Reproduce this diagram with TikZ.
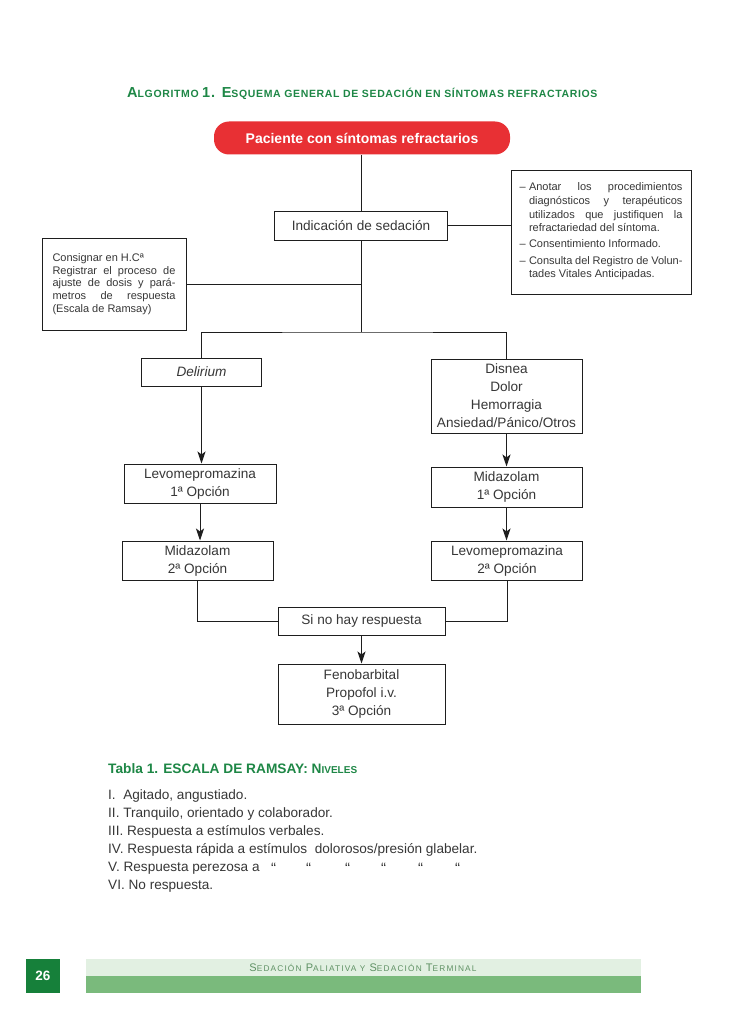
\documentclass[tikz,border=0pt]{standalone}
\usepackage{fontspec}
\setmainfont{Liberation Sans}
\newfontfamily\titlefont[LetterSpace=6.2]{Liberation Sans}
\newfontfamily\footfont[LetterSpace=14]{Liberation Sans}
\usetikzlibrary{arrows.meta}
\definecolor{tgreen}{RGB}{30,135,70}
\definecolor{pred}{RGB}{232,48,52}
\definecolor{fdark}{RGB}{22,128,58}
\definecolor{flight}{RGB}{226,240,226}
\definecolor{fmid}{RGB}{122,186,124}
\definecolor{ftext}{RGB}{95,145,100}
\definecolor{ink}{RGB}{30,30,30}
\definecolor{txt}{RGB}{55,55,55}
\newcommand\BigL[1]{{\fontsize{14.5}{16}\selectfont #1}}
\newcommand\SmlL[1]{{\fontsize{10.5}{12}\selectfont #1}}
\newcommand\FBig[1]{{\fontsize{11}{12}\selectfont #1}}
\newcommand\FSml[1]{{\fontsize{8.3}{12}\selectfont #1}}
\newcommand\ditem[1]{\par\noindent\hangindent=9.5pt\hangafter=1\makebox[9.5pt][l]{–}#1\par\vspace{2.3pt}}
\begin{document}
\begin{tikzpicture}[x=1pt,y=-1pt,
  box/.style={draw=ink, line width=1pt, inner sep=0pt, align=center,
    font=\fontsize{13.6}{18}\selectfont, text=txt},
  conn/.style={draw=ink, line width=1pt},
  arr/.style={conn, -{Stealth[length=12pt,width=8pt,inset=3pt]}},
  listline/.style={anchor=west, inner sep=0pt, text=txt, font=\fontsize{13.6}{16}\selectfont},
  ditto/.style={anchor=west, inner sep=0pt, text=txt, font=\fontsize{15}{16}\selectfont}
]
\useasboundingbox[fill=white] (0,0) rectangle (728,1027);

% title
\node[anchor=base west, inner sep=0pt, text=tgreen, font=\titlefont\bfseries] (title) at (127,97.5)
  {\BigL{A}\SmlL{LGORITMO} \BigL{1. E}\SmlL{SQUEMA GENERAL DE SEDACIÓN EN SÍNTOMAS REFRACTARIOS}};

% nodes
\node[fill=pred, rounded corners=15pt, minimum width=296pt, minimum height=33pt, inner sep=0pt,
  text=white, font=\bfseries\fontsize{14}{16}\selectfont] (pac) at (362,138) {Paciente con síntomas refractarios};

\node[box, minimum width=173pt, minimum height=29pt] (ind) at (361,225.5) {Indicación de sedación};

\node[box, minimum width=180pt, minimum height=123pt] (notes) at (601,232.5)
  {\begin{minipage}{163pt}\fontsize{11}{13.8}\selectfont
   \ditem{Anotar los procedimientos\linebreak diagnósticos y terapéuticos\linebreak utilizados que justifiquen la\linebreak refractariedad del síntoma.}
   \ditem{Consentimiento Informado.}
   \ditem{Consulta del Registro de Volun-\linebreak tades Vitales Anticipadas.}
   \end{minipage}};

\node[box, minimum width=144pt, minimum height=92pt] (reg) at (114,284)
  {\begin{minipage}{123pt}\fontsize{11}{12.7}\selectfont
   Consignar en H.Cª\\
   Registrar el proceso de\linebreak ajuste de dosis y pará-\linebreak metros de respuesta\linebreak (Escala de Ramsay)
   \end{minipage}};

\node[box, minimum width=120pt, minimum height=28pt, font=\itshape\fontsize{13.6}{18}\selectfont] (delirium) at (201.5,372) {Delirium};
\node[box, minimum width=151pt, minimum height=74pt] (disnea) at (506.5,396) {Disnea\\Dolor\\Hemorragia\\Ansiedad/Pánico/Otros};

\node[box, minimum width=152pt, minimum height=39pt] (levo1) at (200,483.5) {Levomepromazina\\1ª Opción};
\node[box, minimum width=151pt, minimum height=39pt] (mida2) at (197.5,560.5) {Midazolam\\2ª Opción};
\node[box, minimum width=151pt, minimum height=40pt] (mida1) at (506.5,487) {Midazolam\\1ª Opción};
\node[box, minimum width=151pt, minimum height=39pt] (levo2) at (507,560.5) {Levomepromazina\\2ª Opción};

\node[box, minimum width=167pt, minimum height=28pt] (sino) at (361.5,621) {Si no hay respuesta};
\node[box, minimum width=167pt, minimum height=60pt] (feno) at (361.5,694) {Fenobarbital\\Propofol i.v.\\3ª Opción};

% connectors
\coordinate (split) at (361,332);
\draw[conn] (ind.north |- pac.south) -- (ind.north);
\draw[conn] (ind.east) -- (ind.east -| notes.west);
\draw[conn] (ind.south) -- (split);
\draw[conn] (reg.east) -- (reg.east -| split);
\draw[conn] (delirium.north) |- (split) -| (disnea.north);
\draw[arr] (delirium.south) -- (delirium.south |- levo1.north);
\draw[arr] (levo1.south) -- (levo1.south |- mida2.north);
\draw[arr] (disnea.south) -- (disnea.south |- mida1.north);
\draw[arr] (mida1.south) -- (mida1.south |- levo2.north);
\draw[conn] (mida2.south) |- (sino.west);
\draw[conn] (levo2.south) |- (sino.east);
\draw[arr] (sino.south) -- (feno.north);

% table
\node[anchor=west, inner sep=0pt, text=tgreen, font=\bfseries\fontsize{13.7}{16}\selectfont] (tabla) at (108,769)
  {Tabla 1. ESCALA DE RAMSAY: N{\fontsize{10}{12}\selectfont IVELES}};
\node[listline] (l1) at (108,796) {I.\ \ Agitado, angustiado.};
\node[listline] (l2) at (108,814) {II. Tranquilo, orientado y colaborador.};
\node[listline] (l3) at (108,832) {III. Respuesta a estímulos verbales.};
\node[listline] (l4) at (108,850) {IV. Respuesta rápida a estímulos \ dolorosos/presión glabelar.};
\node[listline] (l5) at (108,868) {V. Respuesta perezosa a};
\foreach \dx [count=\i] in {271,306,345,381,418,455}
  \node[ditto] (d\i) at (\dx,868) {“};
\node[listline] (l6) at (108,886) {VI. No respuesta.};

% footer
\fill[fdark] (26,959) rectangle (60,993);
\node[text=white, font=\bfseries\fontsize{13.5}{16}\selectfont] (pg) at (43,976) {26};
\fill[flight] (86,959) rectangle (641,976);
\fill[fmid] (86,976) rectangle (641,993);
\node[text=ftext, inner sep=0pt, font=\footfont] (foot) at (363,968)
  {\FBig{S}\FSml{EDACIÓN} \FBig{P}\FSml{ALIATIVA Y} \FBig{S}\FSml{EDACIÓN} \FBig{T}\FSml{ERMINAL}};
\end{tikzpicture}
\end{document}
